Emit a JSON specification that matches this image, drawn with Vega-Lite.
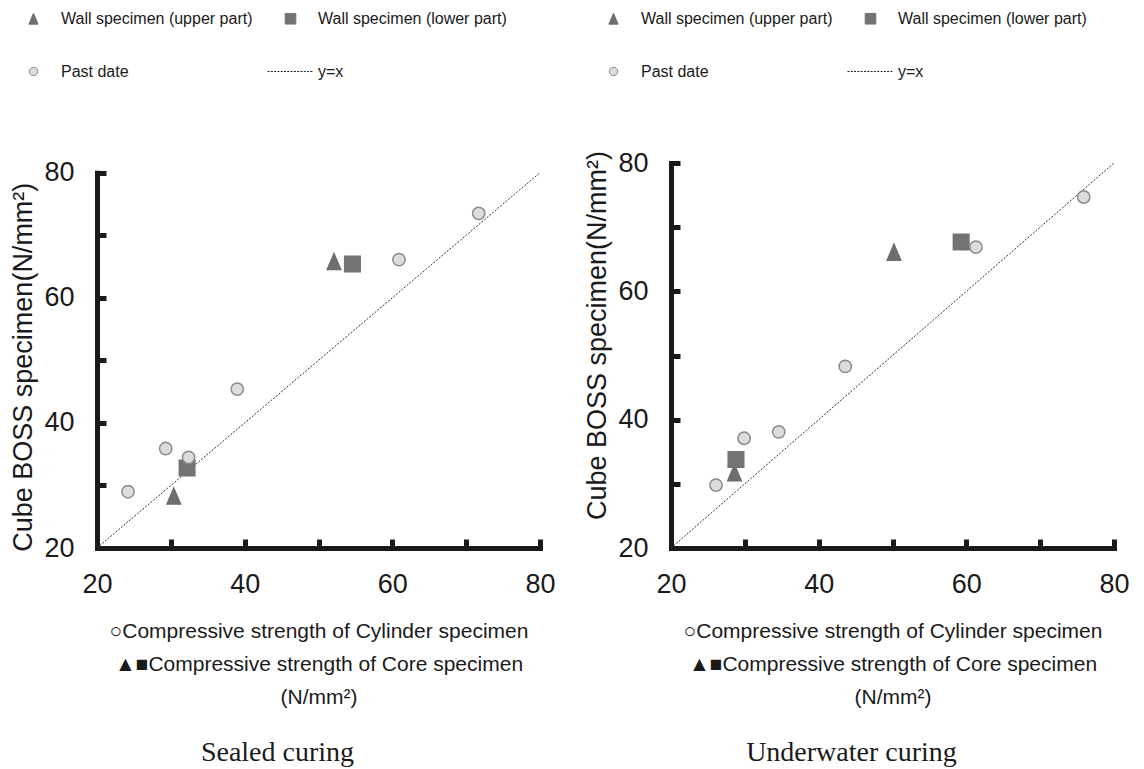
{
  "$schema": "https://vega.github.io/schema/vega-lite/v6.json",
  "background": "white",
  "padding": {"left": 9, "top": 8, "right": 0, "bottom": 0},
  "spacing": 27,
  "config": {
    "view": {"stroke": null},
    "axis": {
      "grid": false,
      "domainColor": "#1a1a1a",
      "domainWidth": 5,
      "domainCap": "square",
      "tickColor": "#1a1a1a",
      "tickWidth": 5,
      "tickSize": -9,
      "labelFont": "Liberation Sans",
      "labelFontSize": 27,
      "labelColor": "#1a1a1a",
      "labelFlush": false,
      "titleColor": "#1a1a1a",
      "titleFontWeight": "normal"
    },
    "legend": {
      "orient": "none",
      "direction": "horizontal",
      "columns": 2,
      "gridAlign": "all",
      "columnPadding": 12,
      "rowPadding": 34,
      "labelOffset": 17,
      "labelFont": "Liberation Sans",
      "labelFontSize": 16,
      "labelColor": "#1a1a1a",
      "labelLimit": 400,
      "symbolSize": 400,
      "symbolStrokeWidth": 1,
      "title": null
    }
  },
  "hconcat": [
    {
      "width": 443,
      "height": 385,
      "title": {"text": "Sealed curing", "orient": "bottom", "anchor": "middle", "frame": "bounds", "dx": -5, "font": "Liberation Serif", "fontSize": 28, "fontWeight": "normal", "color": "#1a1a1a", "offset": 32},
      "encoding": {
        "x": {"field": "x", "type": "quantitative", "scale": {"domain": [20, 80], "nice": false, "zero": false},
          "axis": {"values": [20, 30, 40, 50, 60, 70, 80], "labelExpr": "datum.value % 20 === 0 ? datum.label : ''", "labelPadding": 32,
            "title": ["○Compressive strength of Cylinder specimen", "▲■Compressive strength of Core specimen", "(N/mm²)"],
            "titleFont": "Liberation Sans", "titleFontSize": 21, "titleLineHeight": 33, "titlePadding": 23}},
        "y": {"field": "y", "type": "quantitative", "scale": {"domain": [20, 80], "nice": false, "zero": false, "range": [385, 9.7]},
          "axis": {"values": [20, 30, 40, 50, 60, 70, 80], "labelExpr": "datum.value % 20 === 0 ? datum.label : ''", "labelPadding": 32,
            "title": "Cube BOSS specimen(N/mm²)", "titleFont": "Liberation Sans", "titleFontSize": 27, "titlePadding": 6, "titleY": 203.7}}
      },
      "layer": [
        {
          "data": {"values": [{"x": 20, "y": 20}, {"x": 80, "y": 80}]},
          "mark": {"type": "line", "color": "#333333", "strokeWidth": 1, "strokeDash": [2, 1.5]}
        },
        {
          "data": {"values": [
            {"series": "Wall specimen (upper part)", "x": 30.4, "y": 28.3},
            {"series": "Wall specimen (upper part)", "x": 52.1, "y": 65.8},
            {"series": "Wall specimen (lower part)", "x": 32.2, "y": 32.8},
            {"series": "Wall specimen (lower part)", "x": 54.6, "y": 65.4},
            {"series": "Past date", "x": 24.2, "y": 29.0},
            {"series": "Past date", "x": 29.3, "y": 35.9},
            {"series": "Past date", "x": 32.4, "y": 34.5},
            {"series": "Past date", "x": 39.0, "y": 45.4},
            {"series": "Past date", "x": 60.9, "y": 66.1},
            {"series": "Past date", "x": 71.7, "y": 73.5}
          ]},
          "mark": {"type": "point", "filled": true, "opacity": 1, "strokeWidth": 1.5, "size": 864},
          "encoding": {
            "shape": {"field": "series", "type": "nominal",
              "scale": {"domain": ["Wall specimen (upper part)", "Wall specimen (lower part)", "Past date", "y=x"],
                "range": ["M0,-0.54L-0.46,0.54L0.46,0.54Z", "M-0.53,-0.53H0.53V0.53H-0.53Z", "M0.42,0A0.42,0.42,0,1,1,-0.42,0A0.42,0.42,0,1,1,0.42,0Z", "M-2.3,0H-2.1M-1.97,0H-1.77M-1.64,0H-1.44M-1.31,0H-1.11M-0.98,0H-0.78M-0.65,0H-0.45M-0.32,0H-0.12M0.01,0H0.21M0.34,0H0.54M0.67,0H0.87M1,0H1.2M1.33,0H1.53M1.66,0H1.86M1.99,0H2.19"]},
              "legend": {"legendX": -74, "legendY": -155}},
            "fill": {"field": "series", "type": "nominal",
              "scale": {"domain": ["Wall specimen (upper part)", "Wall specimen (lower part)", "Past date", "y=x"], "range": ["#6e6e6e", "#737373", "#dcdcdc", "transparent"]},
              "legend": {"legendX": -74, "legendY": -155}},
            "stroke": {"field": "series", "type": "nominal",
              "scale": {"domain": ["Wall specimen (upper part)", "Wall specimen (lower part)", "Past date", "y=x"], "range": ["#6e6e6e", "#737373", "#8a8a8a", "#222222"]},
              "legend": {"legendX": -74, "legendY": -155}}
          }
        }
      ]
    },
    {
      "width": 443,
      "height": 385,
      "title": {"text": "Underwater curing", "orient": "bottom", "anchor": "middle", "frame": "bounds", "dx": -5, "font": "Liberation Serif", "fontSize": 28, "fontWeight": "normal", "color": "#1a1a1a", "offset": 32},
      "encoding": {
        "x": {"field": "x", "type": "quantitative", "scale": {"domain": [20, 80], "nice": false, "zero": false},
          "axis": {"values": [20, 30, 40, 50, 60, 70, 80], "labelExpr": "datum.value % 20 === 0 ? datum.label : ''", "labelPadding": 32,
            "title": ["○Compressive strength of Cylinder specimen", "▲■Compressive strength of Core specimen", "(N/mm²)"],
            "titleFont": "Liberation Sans", "titleFontSize": 21, "titleLineHeight": 33, "titlePadding": 23}},
        "y": {"field": "y", "type": "quantitative", "scale": {"domain": [20, 80], "nice": false, "zero": false},
          "axis": {"values": [20, 30, 40, 50, 60, 70, 80], "labelExpr": "datum.value % 20 === 0 ? datum.label : ''", "labelPadding": 32,
            "title": "Cube BOSS specimen(N/mm²)", "titleFont": "Liberation Sans", "titleFontSize": 27, "titlePadding": 6, "titleY": 172}}
      },
      "layer": [
        {
          "data": {"values": [{"x": 20, "y": 20}, {"x": 80, "y": 80}]},
          "mark": {"type": "line", "color": "#333333", "strokeWidth": 1, "strokeDash": [2, 1.5]}
        },
        {
          "data": {"values": [
            {"series": "Wall specimen (upper part)", "x": 28.6, "y": 31.7},
            {"series": "Wall specimen (upper part)", "x": 50.2, "y": 66.1},
            {"series": "Wall specimen (lower part)", "x": 28.8, "y": 33.8},
            {"series": "Wall specimen (lower part)", "x": 59.3, "y": 67.7},
            {"series": "Past date", "x": 26.1, "y": 29.8},
            {"series": "Past date", "x": 29.9, "y": 37.1},
            {"series": "Past date", "x": 34.6, "y": 38.1},
            {"series": "Past date", "x": 43.6, "y": 48.3},
            {"series": "Past date", "x": 61.3, "y": 66.9},
            {"series": "Past date", "x": 75.9, "y": 74.7}
          ]},
          "mark": {"type": "point", "filled": true, "opacity": 1, "strokeWidth": 1.5, "size": 864},
          "encoding": {
            "shape": {"field": "series", "type": "nominal",
              "scale": {"domain": ["Wall specimen (upper part)", "Wall specimen (lower part)", "Past date", "y=x"],
                "range": ["M0,-0.54L-0.46,0.54L0.46,0.54Z", "M-0.53,-0.53H0.53V0.53H-0.53Z", "M0.42,0A0.42,0.42,0,1,1,-0.42,0A0.42,0.42,0,1,1,0.42,0Z", "M-2.3,0H-2.1M-1.97,0H-1.77M-1.64,0H-1.44M-1.31,0H-1.11M-0.98,0H-0.78M-0.65,0H-0.45M-0.32,0H-0.12M0.01,0H0.21M0.34,0H0.54M0.67,0H0.87M1,0H1.2M1.33,0H1.53M1.66,0H1.86M1.99,0H2.19"]},
              "legend": {"legendX": -68, "legendY": -155}},
            "fill": {"field": "series", "type": "nominal",
              "scale": {"domain": ["Wall specimen (upper part)", "Wall specimen (lower part)", "Past date", "y=x"], "range": ["#6e6e6e", "#737373", "#dcdcdc", "transparent"]},
              "legend": {"legendX": -68, "legendY": -155}},
            "stroke": {"field": "series", "type": "nominal",
              "scale": {"domain": ["Wall specimen (upper part)", "Wall specimen (lower part)", "Past date", "y=x"], "range": ["#6e6e6e", "#737373", "#8a8a8a", "#222222"]},
              "legend": {"legendX": -68, "legendY": -155}}
          }
        }
      ]
    }
  ],
  "resolve": {
    "scale": {"x": "independent", "y": "independent", "shape": "independent", "fill": "independent", "stroke": "independent"},
    "legend": {"shape": "independent", "fill": "independent", "stroke": "independent"}
  }
}
